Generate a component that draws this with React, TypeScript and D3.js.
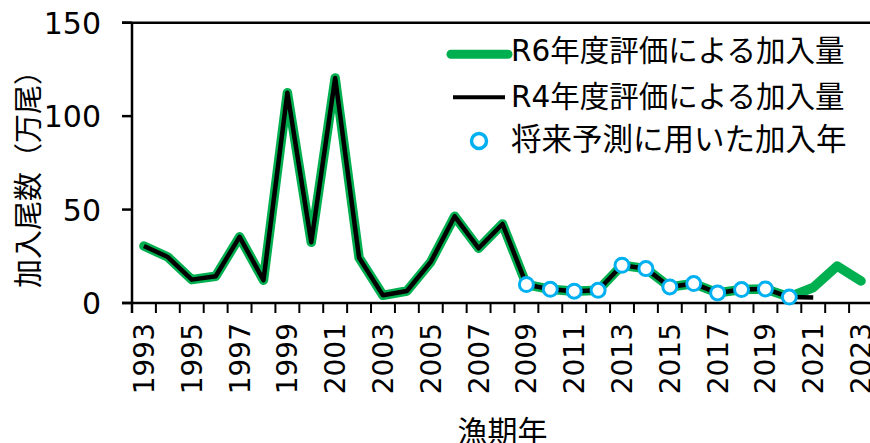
import React from "react";
import * as d3 from "d3";

const years: number[] = d3.range(1993, 2024);
const r6Years: number[] = d3.range(1993, 2024);
const r6Values: number[] = [
  30.5, 24.6, 12.5, 14.3, 35.4, 12.2, 112.5, 32.5, 120.4, 24.2,
  4.1, 6.4, 22.0, 46.4, 29.3, 42.3, 9.9, 7.3, 6.3, 6.8,
  20.2, 18.4, 8.6, 10.4, 5.4, 7.2, 7.5, 3.2, 8.3, 19.8, 11.8,
];
const r4Years: number[] = d3.range(1993, 2022);
const r4Values: number[] = [
  30.5, 24.6, 12.5, 14.3, 35.4, 12.2, 112.5, 32.5, 120.4, 24.2,
  4.1, 6.4, 22.0, 46.4, 29.3, 42.3, 9.9, 7.3, 6.3, 6.8,
  20.2, 18.4, 8.6, 10.4, 5.4, 7.2, 7.5, 3.2, 2.9,
];
const usedYears: number[] = d3.range(2009, 2021);
const yTicks: number[] = [0, 50, 100, 150];
const xLabelYears: number[] = d3.range(1993, 2024, 2);
const legendLabels: string[] = [
  "R6年度評価による加入量",
  "R4年度評価による加入量",
  "将来予測に用いた加入年",
];
const yTitle = "加入尾数（万尾）";
const xTitle = "漁期年";

const GREEN = "#00b050";
const BLUE = "#00b0f0";
const FONT = "'DejaVu Sans', 'Noto Sans CJK JP', sans-serif";

export default function App() {
  const W = 870;
  const H = 443;
  const x = d3.scaleBand<number>().domain(years).range([132, 873]).padding(0);
  const y = d3.scaleLinear().domain([0, 150]).range([303, 22.7]);
  const cx = (yr: number) => (x(yr) as number) + x.bandwidth() / 2;

  const line = d3
    .line<[number, number]>()
    .x((d) => cx(d[0]))
    .y((d) => y(d[1]));

  const r6: [number, number][] = r6Years.map((yr, i) => [yr, r6Values[i]]);
  const r4: [number, number][] = r4Years.map((yr, i) => [yr, r4Values[i]]);
  const used: [number, number][] = usedYears.map((yr) => [yr, r6Values[r6Years.indexOf(yr)]]);

  const boundaries = years.map((yr) => x(yr) as number).concat([(x(years[years.length - 1]) as number) + x.bandwidth()]);
  const x0 = x.range()[0];
  const y0 = y(0);

  return (
    <svg width={W} height={H} style={{ position: "absolute", left: 0, top: 0, background: "#fff" }} fontFamily={FONT}>
      <rect x={0} y={0} width={W} height={H} fill="#fff" />
      {/* top border */}
      <line x1={122} x2={873} y1={y(150)} y2={y(150)} stroke="#000" strokeWidth={2.5} />
      {/* y axis */}
      <line x1={x0} x2={x0} y1={y(150)} y2={y0 + 10} stroke="#000" strokeWidth={2.5} />
      {yTicks.map((t) => (
        <g key={t}>
          <line x1={122} x2={x0} y1={y(t)} y2={y(t)} stroke="#000" strokeWidth={2.5} />
          <text x={101} y={y(t) + 11} fontSize={30} textAnchor="end" fill="#000">
            {t}
          </text>
        </g>
      ))}
      {/* x axis */}
      <line x1={122} x2={873} y1={y0} y2={y0} stroke="#000" strokeWidth={2.5} />
      {boundaries.map((b, i) => (
        <line key={i} x1={b} x2={b} y1={y0} y2={y0 + 10} stroke="#000" strokeWidth={2} />
      ))}
      {xLabelYears.map((yr) => (
        <text
          key={yr}
          transform={`translate(${cx(yr) + 10},${323}) rotate(-90)`}
          fontSize={28}
          textAnchor="end"
          fill="#000"
        >
          {yr}
        </text>
      ))}
      <text x={(x0 + 873) / 2} y={442} fontSize={30} textAnchor="middle" fill="#000">
        {xTitle}
      </text>
      <text transform={`translate(39,172) rotate(-90)`} fontSize={29} textAnchor="middle" fill="#000">
        {yTitle}
      </text>

      {/* series */}
      <path d={line(r6) || ""} fill="none" stroke={GREEN} strokeWidth={9.5} strokeLinejoin="round" strokeLinecap="round" />
      <path d={line(r4) || ""} fill="none" stroke="#000" strokeWidth={4.5} strokeLinejoin="round" />
      {used.map(([yr, v]) => (
        <circle key={yr} cx={cx(yr)} cy={y(v)} r={7} fill="#fff" stroke={BLUE} strokeWidth={3} />
      ))}

      {/* legend */}
      <line x1={451} x2={508} y1={54.3} y2={54.3} stroke={GREEN} strokeWidth={9} strokeLinecap="round" />
      <text x={511} y={61} fontSize={29.5} fill="#000">{legendLabels[0]}</text>
      <line x1={453} x2={505} y1={97.3} y2={97.3} stroke="#000" strokeWidth={4} />
      <text x={511} y={107.3} fontSize={29.5} fill="#000">{legendLabels[1]}</text>
      <circle cx={479} cy={141} r={7.5} fill="#fff" stroke={BLUE} strokeWidth={3.5} />
      <text x={511} y={150} fontSize={30.5} fill="#000">{legendLabels[2]}</text>
    </svg>
  );
}
